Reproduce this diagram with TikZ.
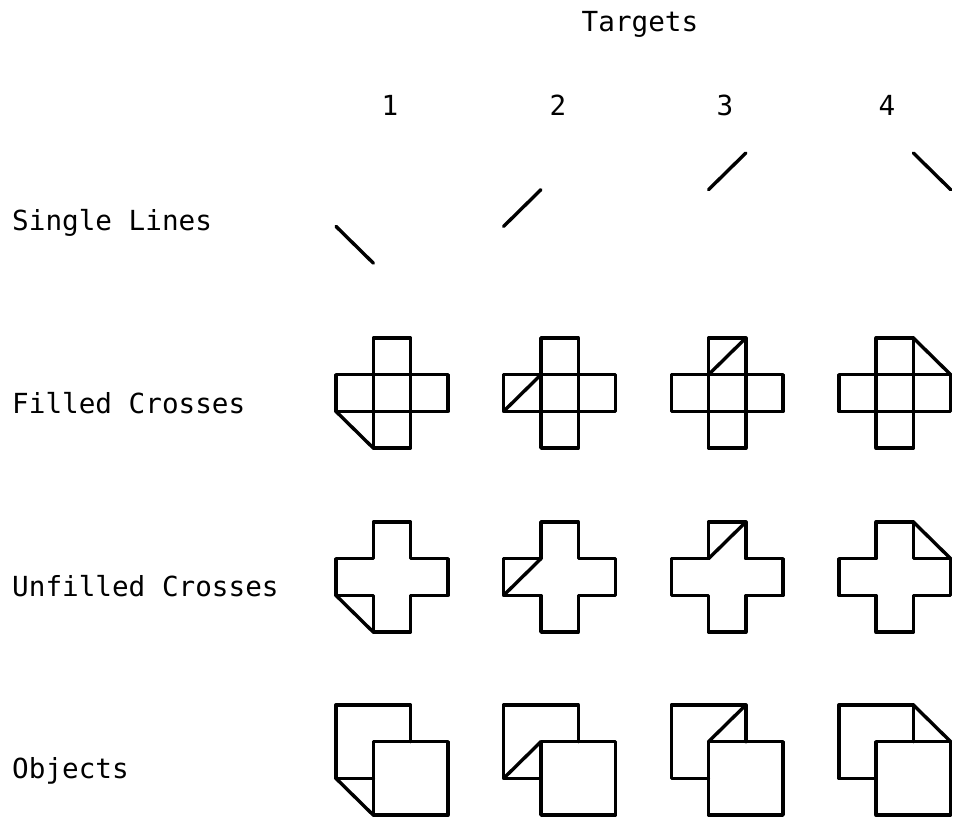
\documentclass[tikz,border=0pt]{standalone}
\usepackage{fontspec}
\setmonofont{DejaVu Sans Mono}

\tikzset{
  stroke/.style={line width=2.9pt, line join=round, line cap=round},
  plotfont/.style={font=\ttfamily\fontsize{23.6}{28}\selectfont, inner sep=0pt},
  rowlabel/.style={plotfont, anchor=base west},
  collabel/.style={plotfont, anchor=base},
  cell/.style={x=1.119cm, y=-1.101cm},
}

\begin{document}
\begin{tikzpicture}[x=0.03cm, y=-0.03cm]

  \useasboundingbox (0,0) rectangle (954,817);

  % Draw the titles
  \node[collabel] (targets) at (640,32) {Targets};
  \foreach \i/\px in {1/390, 2/558, 3/725, 4/887}
    \node[collabel] (num\i) at (\px,116) {\i};

  \node[rowlabel] (lines) at (12,230) {Single Lines};
  \node[rowlabel] (filled) at (12,413) {Filled Crosses};
  \node[rowlabel] (unfilled) at (12,596) {Unfilled Crosses};
  \node[rowlabel] (objects) at (12,778) {Objects};

  % One column per target, the diagonal is the same in every row
  \foreach \i/\ax/\ay/\bx/\by in {0/0/2/1/3, 1/0/2/1/1, 2/1/1/2/0, 3/2/0/3/1} {

    % Single line
    \begin{scope}[shift={({336+167.6*\i},153)}, cell]
      \draw[stroke] (\ax,\ay) -- (\bx,\by);
    \end{scope}

    % Filled cross
    \begin{scope}[shift={({336+167.6*\i},338)}, cell]
      \draw[stroke] (1,0) rectangle (2,3);
      \draw[stroke] (0,1) rectangle (3,2);
      \draw[stroke] (\ax,\ay) -- (\bx,\by);
    \end{scope}

    % Unfilled cross
    \begin{scope}[shift={({336+167.6*\i},522)}, cell]
      \draw[stroke] (1,0) -- (2,0) -- (2,1) -- (3,1) -- (3,2) -- (2,2) -- (2,3)
        -- (1,3) -- (1,2) -- (0,2) -- (0,1) -- (1,1) -- cycle;
      \draw[stroke] (\ax,\ay) -- (\bx,\by);
    \end{scope}

    % Objects
    \begin{scope}[shift={({336+167.6*\i},705)}, cell]
      \draw[stroke] (1,2) -- (0,2) -- (0,0) -- (2,0) -- (2,1);
      \draw[stroke] (1,1) rectangle (3,3);
      \draw[stroke] (\ax,\ay) -- (\bx,\by);
    \end{scope}
  }

\end{tikzpicture}
\end{document}
